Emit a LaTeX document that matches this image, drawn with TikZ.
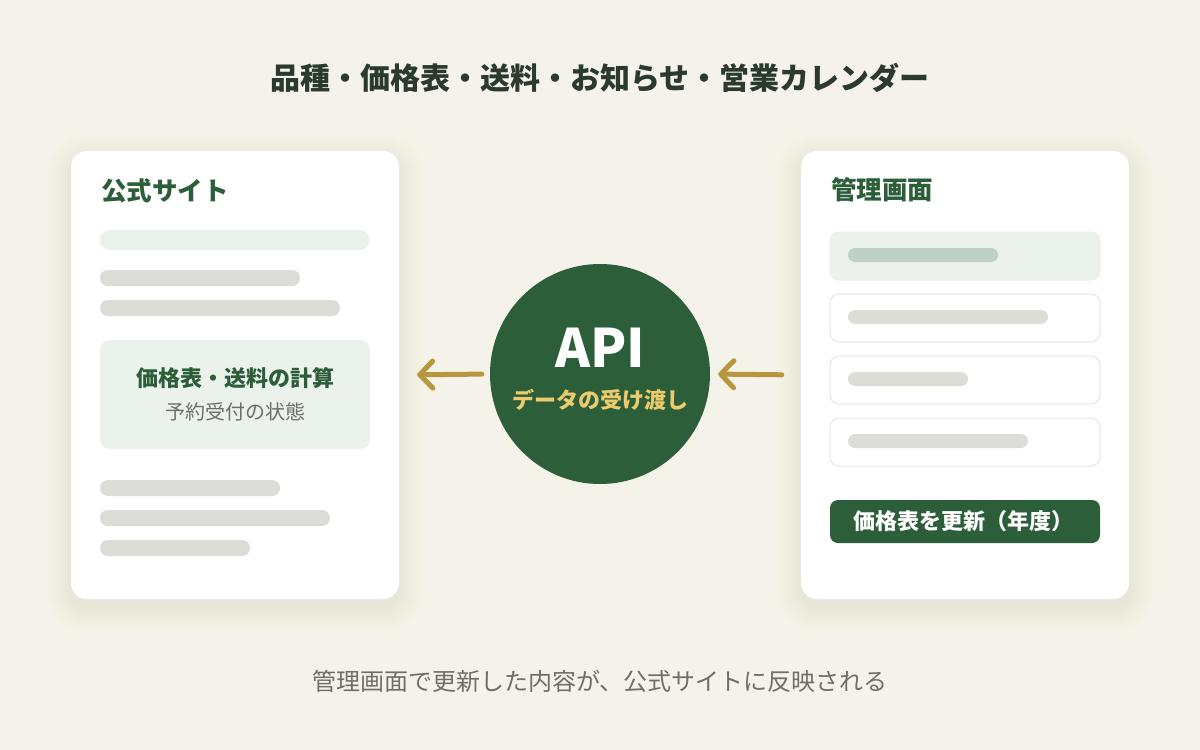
\documentclass[tikz,border=0pt]{standalone}
\usepackage{fontspec}
\setmainfont{Noto Sans CJK JP}
\usetikzlibrary{arrows.meta}
\definecolor{bg}{HTML}{F5F3E9}
\definecolor{darkgreen}{HTML}{2D5E3A}
\definecolor{titleink}{HTML}{2A3A2C}
\definecolor{paleg}{HTML}{EBF2EB}
\definecolor{barg}{HTML}{DCDDD6}
\definecolor{barsel}{HTML}{BFD1C4}
\definecolor{fieldline}{HTML}{E5E6E1}
\definecolor{greytext}{HTML}{6E6F69}
\definecolor{gold}{HTML}{B8963E}
\definecolor{goldtext}{HTML}{EBCB6C}
\definecolor{shadowc}{HTML}{8A8264}
\newcommand{\fs}[1]{\fontsize{#1}{#1}\selectfont}
\tikzset{
  card/.style={fill=white, rounded corners=16pt, inner sep=0pt, minimum width=328pt, minimum height=448pt},
  bar/.style={fill=barg, rounded corners=8pt},
  lightbar/.style={fill=paleg, rounded corners=10pt},
  field/.style={draw=fieldline, line width=1pt, fill=white, rounded corners=9pt},
  selfield/.style={draw=paleg!80!fieldline, line width=1pt, fill=paleg, rounded corners=9pt},
  cardtitle/.style={anchor=west, inner sep=0pt, text=darkgreen, font=\fs{25.5}\bfseries},
  flow/.style={draw=gold, line width=5pt, line cap=round, -{Straight Barb[length=13pt,width=27pt,round]}},
  txt/.style={inner sep=0pt}
}
\begin{document}
\begin{tikzpicture}[x=1pt,y=-1pt]
\useasboundingbox[fill=bg] (0,0) rectangle (1200,750);

% shadows
\foreach \cx in {71,801}{
  \foreach \s in {2,4,...,24}{
    \fill[shadowc, opacity=0.008, rounded corners={16+\s}]
      ({\cx-\s},{151-\s+8}) rectangle ({\cx+328+\s},{599+\s+8});
  }
}

% title
\node[txt, text=titleink, font=\fs{30}\bfseries] (title) at (600,78) {品種・価格表・送料・お知らせ・営業カレンダー};

% left card
\node[card] (site) at (235,375) {};
\node[cardtitle] (sitetitle) at (101,191) {公式サイト};
\fill[lightbar] (100,230) rectangle (370,250);
\fill[bar] (100,270) rectangle (300,286);
\fill[bar] (100,300) rectangle (340,316);
\node[fill=paleg, rounded corners=10pt, minimum width=270pt, minimum height=109pt, inner sep=0pt] (calc) at (235,394.5) {};
\node[txt, text=darkgreen, font=\fs{22}\bfseries] (calct) at (235,378) {価格表・送料の計算};
\node[txt, text=greytext, font=\fs{20}] (calcs) at (235,412) {予約受付の状態};
\fill[bar] (100,480) rectangle (280,496);
\fill[bar] (100,510) rectangle (330,526);
\fill[bar] (100,540) rectangle (250,556);

% right card
\node[card] (admin) at (965,375) {};
\node[cardtitle] (admintitle) at (831,190) {管理画面};
\draw[selfield] (830,232) rectangle (1100,280);
\fill[barsel, rounded corners=7pt] (848,248) rectangle (998,262);
\draw[field] (830,294) rectangle (1100,342);
\fill[bar, rounded corners=7pt] (848,310) rectangle (1048,324);
\draw[field] (830,356) rectangle (1100,404);
\fill[bar, rounded corners=7pt] (848,372) rectangle (968,386);
\draw[field] (830,418) rectangle (1100,466);
\fill[bar, rounded corners=7pt] (848,434) rectangle (1028,448);
\node[fill=darkgreen, rounded corners=8pt, minimum width=270pt, minimum height=43pt, inner sep=0pt] (btn) at (965,521.5) {};
\node[txt, anchor=west, text=white, font=\fs{22}\bfseries] (btnt) at (853,521.5) {価格表を更新（年度）};

% API circle
\node[circle, fill=darkgreen, minimum size=220pt, inner sep=0pt] (api) at (600,374) {};
\node[txt, text=white, font=\fs{53}\bfseries] (apit) at (600,348) {API};
\node[txt, text=goldtext, font=\fs{22}\bfseries] (apis) at (600,400) {データの受け渡し};

% arrows
\draw[flow, shorten <=8pt, shorten >=18pt] (api.west) -- (site.east);
\draw[flow, shorten <=19pt, shorten >=8pt] (admin.west) -- (api.east);

% caption
\node[txt, text=greytext, font=\fs{24}] (caption) at (600,681) {管理画面で更新した内容が、公式サイトに反映される};
\end{tikzpicture}
\end{document}
